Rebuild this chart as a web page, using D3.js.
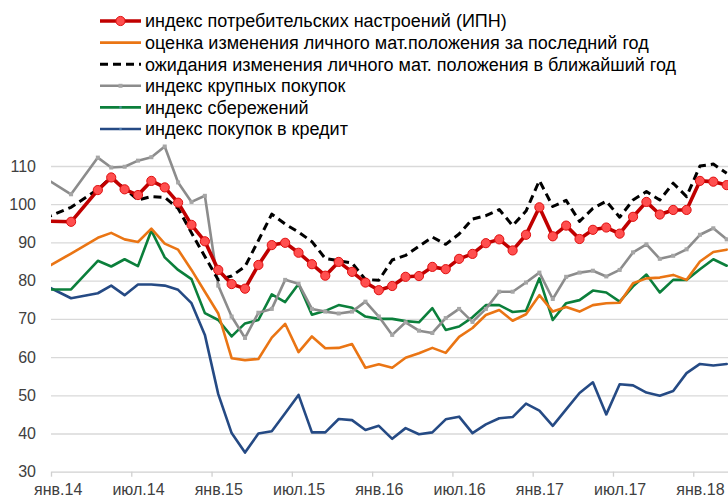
<!DOCTYPE html>
<html>
<head>
  <meta charset="utf-8">
  <style>
    body { margin: 0; background: #fff; }
    svg { display: block; }
    .axis text { font-family: "Liberation Sans", Arial, sans-serif; font-size: 16px; fill: #404040; }
    .legend text { font-family: "Liberation Sans", Arial, sans-serif; font-size: 18px; fill: #000; }
    .line { fill: none; stroke-linejoin: round; stroke-linecap: round; }
  </style>
</head>
<body>
  <svg id="chart" width="728" height="497"></svg>
  <script src="https://cdn.jsdelivr.net/npm/d3@7"></script>
  <script>
    // months of the survey (early data is bimonthly)
    const months = ["2013-12", "2014-02", "2014-04", "2014-05", "2014-06", "2014-07", "2014-08", "2014-09", "2014-10", "2014-11", "2014-12",
      "2015-01", "2015-02", "2015-03", "2015-04", "2015-05", "2015-06", "2015-07", "2015-08", "2015-09", "2015-10", "2015-11", "2015-12",
      "2016-01", "2016-02", "2016-03", "2016-04", "2016-05", "2016-06", "2016-07", "2016-08", "2016-09", "2016-10", "2016-11", "2016-12",
      "2017-01", "2017-02", "2017-03", "2017-04", "2017-05", "2017-06", "2017-07", "2017-08", "2017-09", "2017-10", "2017-11", "2017-12",
      "2018-01", "2018-02", "2018-03"];

    const ipn = [95.6, 95.4, 103.7, 107.0, 103.9, 102.4, 106.1, 104.4, 100.4, 94.6, 90.3,
      82.8, 79.1, 77.9, 84.1, 89.3, 89.9, 87.3, 84.3, 81.3, 84.9, 82.3, 79.5,
      77.5, 78.6, 81.0, 81.2, 83.6, 83.0, 85.7, 87.0, 89.8, 90.8, 87.9, 92.0,
      99.2, 91.6, 94.4, 90.9, 93.3, 93.9, 92.3, 96.7, 100.6, 97.3, 98.5, 98.5,
      106.1, 105.9, 105.0];

    const pastYear = [83.1, 87.1, 91.2, 92.5, 90.8, 90.1, 93.6, 89.7, 88.1, 82.8, 77.1,
      71.4, 59.7, 59.2, 59.5, 65.1, 68.7, 61.3, 65.4, 62.3, 62.4, 63.4, 57.2,
      58.1, 57.2, 59.8, 61.0, 62.4, 61.1, 65.3, 67.6, 71.0, 72.3, 69.5, 71.2,
      76.2, 71.9, 73.1, 71.9, 73.6, 74.1, 74.2, 79.3, 80.6, 80.8, 81.5, 80.2,
      85.0, 87.5, 88.1];

    const nextYear = [96.3, 99.2, 103.9, 107.0, 104.1, 101.1, 102.0, 101.8, 98.9, 92.5, 86.3,
      80.2, 81.2, 83.7, 90.5, 97.4, 94.8, 92.7, 90.2, 85.8, 85.2, 84.6, 80.3,
      80.1, 85.4, 86.6, 89.0, 91.4, 89.5, 92.2, 96.1, 97.0, 98.6, 94.4, 98.2,
      106.2, 99.4, 101.0, 95.5, 98.9, 100.8, 96.6, 101.1, 103.3, 101.1, 105.5, 102.0,
      110.0, 110.5, 108.1];

    const bigPurchases = [107.0, 102.6, 112.2, 109.6, 109.8, 111.4, 112.3, 115.1, 105.7, 100.6, 102.2,
      78.7, 70.6, 65.0, 71.6, 72.6, 80.2, 79.2, 72.6, 71.9, 71.4, 71.9, 74.5,
      70.6, 65.8, 69.1, 66.9, 66.3, 70.2, 72.6, 69.2, 72.6, 77.1, 77.1, 79.5,
      82.1, 75.2, 81.0, 82.1, 82.6, 81.1, 82.8, 87.4, 89.5, 85.7, 86.5, 88.2,
      92.0, 93.7, 90.8];

    const savings = [77.7, 77.7, 85.2, 83.7, 85.6, 83.8, 93.1, 86.1, 82.8, 80.4, 71.5,
      69.7, 65.4, 68.8, 69.7, 76.4, 74.4, 79.1, 71.1, 72.1, 73.6, 72.9, 70.6,
      70.0, 70.0, 69.4, 69.1, 72.8, 67.1, 68.0, 70.4, 73.6, 73.6, 71.8, 72.1,
      80.6, 69.7, 74.1, 74.9, 77.4, 76.9, 74.5, 78.5, 81.6, 76.9, 80.2, 80.2,
      83.0, 85.6, 83.9];

    const credit = [78.9, 75.4, 76.7, 78.7, 76.2, 79.0, 79.0, 78.7, 77.6, 74.1, 65.8,
      50.3, 40.1, 35.0, 40.0, 40.6, 45.3, 50.1, 40.3, 40.3, 43.8, 43.5, 40.9,
      42.0, 38.6, 41.4, 39.8, 40.3, 43.7, 44.4, 40.1, 42.4, 44.0, 44.3, 47.8,
      46.0, 42.0, 46.3, 50.6, 53.4, 45.0, 52.9, 52.6, 50.7, 49.9, 51.1, 55.8,
      58.2, 57.8, 58.2];

    const tickMonths = ["2014-01", "2014-07", "2015-01", "2015-07", "2016-01", "2016-07", "2017-01", "2017-07", "2018-01"];
    const tickLabels = ["янв.14", "июл.14", "янв.15", "июл.15", "янв.16", "июл.16", "янв.17", "июл.17", "янв.18"];
    const yTicks = [30, 40, 50, 60, 70, 80, 90, 100, 110];

    const legendNames = [
      "индекс потребительских настроений (ИПН)",
      "оценка изменения личного мат.положения за последний год",
      "ожидания изменения личного мат. положения в ближайший год",
      "индекс крупных покупок",
      "индекс сбережений",
      "индекс покупок в кредит"
    ];

    // month index counted from January 2014
    const monthIndex = s => (+s.slice(0, 4) - 2014) * 12 + (+s.slice(5, 7) - 1);

    const svg = d3.select("#chart");
    const plotLeft = 51, plotRight = 733.4, plotTop = 166, plotBottom = 471.7;

    const x = d3.scaleLinear().domain([-0.5, 50.5]).range([plotLeft, plotRight]);
    const y = d3.scaleLinear().domain([30, 110]).range([plotBottom, plotTop]);

    svg.append("defs").append("clipPath").attr("id", "plot")
      .append("rect").attr("x", plotLeft).attr("y", 0).attr("width", plotRight - plotLeft).attr("height", 497);

    // gridlines
    svg.append("g")
      .attr("transform", `translate(${plotLeft},0)`)
      .call(d3.axisLeft(y).tickValues(yTicks.slice(1)).tickSize(-(plotRight - plotLeft)).tickFormat(""))
      .call(g => g.select(".domain").remove())
      .call(g => g.selectAll("line").attr("stroke", "#d9d9d9").attr("stroke-width", 1.3));

    // y labels
    svg.append("g")
      .attr("class", "axis")
      .attr("transform", "translate(36,0)")
      .call(d3.axisLeft(y).tickValues(yTicks).tickSize(0).tickPadding(0))
      .call(g => g.select(".domain").remove());

    // x axis line and tick marks at month boundaries
    svg.append("g")
      .attr("transform", `translate(0,${plotBottom})`)
      .call(d3.axisBottom(x).tickValues(tickMonths.map(m => monthIndex(m) - 0.5)).tickSize(5).tickSizeOuter(0).tickFormat(""))
      .call(g => g.select(".domain").attr("stroke", "#d0d0d0").attr("stroke-width", 1.3))
      .call(g => g.selectAll("line").attr("stroke", "#d0d0d0").attr("stroke-width", 1.3));

    // x labels centred on the month
    svg.append("g")
      .attr("class", "axis")
      .attr("transform", `translate(0,${plotBottom})`)
      .call(d3.axisBottom(x).tickValues(tickMonths.map(monthIndex)).tickSize(0).tickPadding(12)
        .tickFormat((d, i) => tickLabels[i]))
      .call(g => g.select(".domain").remove());

    const series = [
      {name: legendNames[5], values: credit, color: "#254a84", width: 2.6, marker: "dot"},
      {name: legendNames[4], values: savings, color: "#0b7f3b", width: 2.6, marker: "dot"},
      {name: legendNames[3], values: bigPurchases, color: "#8c8c8c", width: 2.6, marker: "square"},
      {name: legendNames[1], values: pastYear, color: "#ea7514", width: 2.6, marker: "none"},
      {name: legendNames[2], values: nextYear, color: "#000000", width: 3, marker: "none", dash: "8,5"},
      {name: legendNames[0], values: ipn, color: "#c00000", width: 3.6, marker: "circle"}
    ];

    const line = d3.line()
      .x(d => x(d.m))
      .y(d => y(d.v));

    const plot = svg.append("g").attr("clip-path", "url(#plot)");

    function drawMarker(g, kind, cx, cy) {
      if (kind === "circle") {
        g.append("circle").attr("cx", cx).attr("cy", cy).attr("r", 4.6)
          .attr("fill", "#ff4f4f").attr("stroke", "#e01010").attr("stroke-width", 1);
      } else if (kind === "square") {
        g.append("rect").attr("x", cx - 2).attr("y", cy - 2).attr("width", 4).attr("height", 4)
          .attr("fill", "#a6a6a6");
      } else if (kind === "dot") {
        g.append("rect").attr("x", cx - 1.2).attr("y", cy - 1.2).attr("width", 2.4).attr("height", 2.4)
          .attr("fill", "#6fa0d0").attr("opacity", 0.6);
      }
    }

    series.forEach(s => {
      const pts = months.map((m, i) => ({m: monthIndex(m), v: s.values[i]}));
      plot.append("path")
        .datum(pts)
        .attr("class", "line")
        .attr("stroke", s.color)
        .attr("stroke-width", s.width)
        .attr("stroke-dasharray", s.dash || null)
        .style("stroke-linecap", s.dash ? "butt" : "round")
        .attr("d", line);
      if (s.marker === "circle" || s.marker === "square") {
        pts.slice(1).forEach(p => drawMarker(plot, s.marker, x(p.m), y(p.v)));
      }
    });

    // legend
    const legend = svg.append("g").attr("class", "legend");
    const legendOrder = [5, 3, 4, 2, 1, 0];
    legendOrder.forEach((si, row) => {
      const s = series[si];
      const ly = 21 + row * 21.6;
      legend.append("line")
        .attr("x1", 100).attr("x2", 141).attr("y1", ly).attr("y2", ly)
        .attr("stroke", s.color).attr("stroke-width", s.width)
        .attr("stroke-dasharray", s.dash ? "8,5" : null);
      drawMarker(legend, s.marker, 120.5, ly);
      legend.append("text")
        .attr("x", 145).attr("y", ly + 6.3)
        .text(s.name);
    });
  </script>
</body>
</html>
